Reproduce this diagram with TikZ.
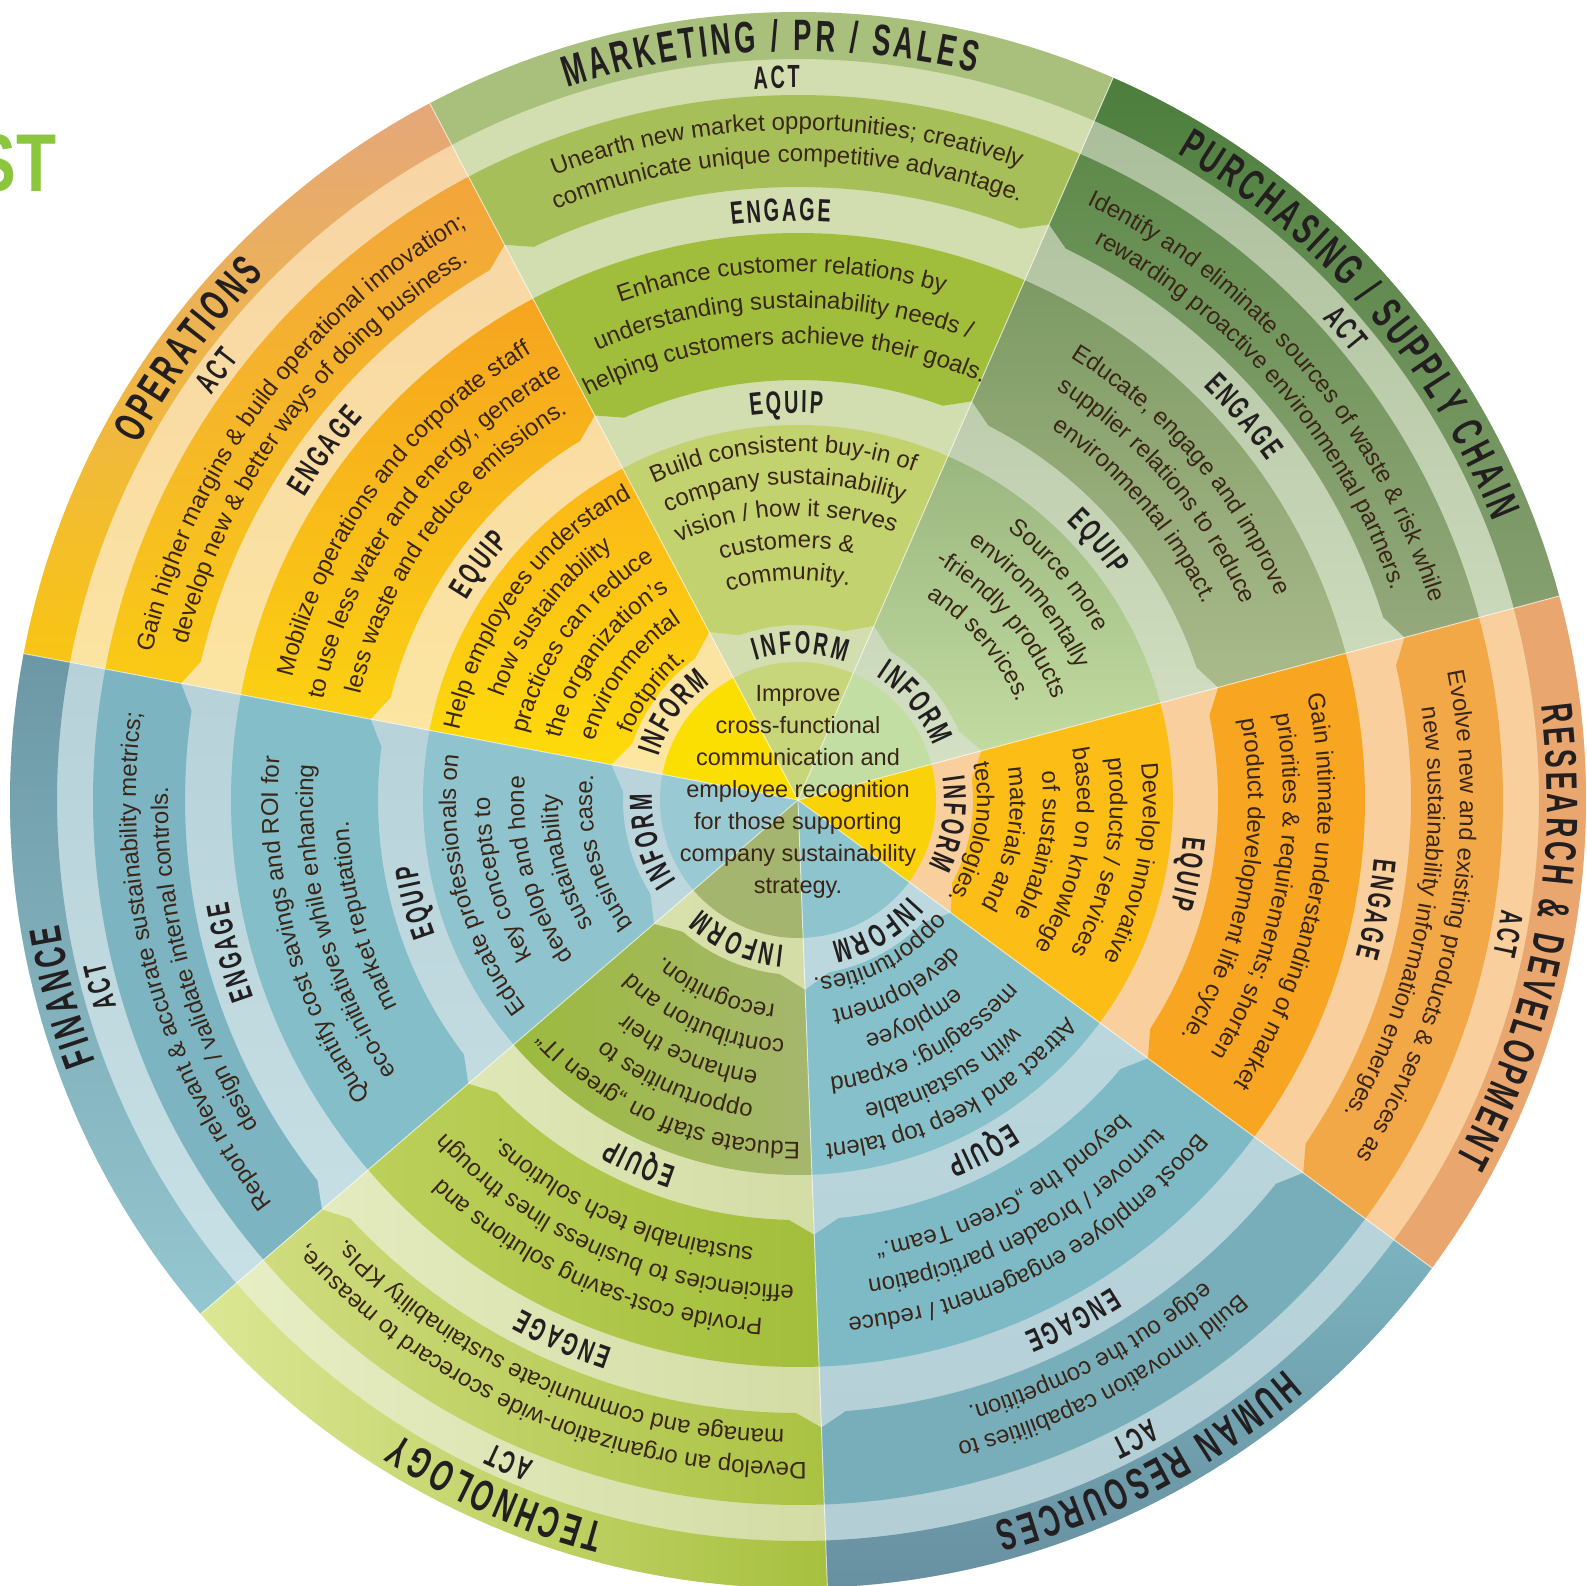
\documentclass[tikz,border=0pt]{standalone}
\usepackage{fontspec}
\setmainfont{Liberation Sans}
\newfontfamily\bodyfam{Liberation Sans}
\newfontfamily\labelfam{Liberation Sans}[FakeStretch=0.62]
\newfontfamily\titlefam{Liberation Sans}[FakeStretch=0.8]
\usetikzlibrary{decorations.text}

% --- Colours ---
\definecolor{ink}{HTML}{3A2517}
\definecolor{labelink}{HTML}{231F20}
\definecolor{titlegreen}{HTML}{8CC63F}
% marketing
\definecolor{mktBase}{HTML}{D2DDB0}\definecolor{mktName}{HTML}{A8C07C}
\definecolor{mktAct}{HTML}{A7BF58}\definecolor{mktEng}{HTML}{A0BE3C}
\definecolor{mktEqu}{HTML}{C2D26E}\definecolor{mktCore}{HTML}{C8D67B}
% purchasing
\definecolor{purBaseT}{HTML}{A8BC98}\definecolor{purBaseB}{HTML}{D6E2C6}
\definecolor{purNameT}{HTML}{4C7E3D}\definecolor{purNameB}{HTML}{86A070}
\definecolor{purActT}{HTML}{5E8A4B}\definecolor{purActB}{HTML}{95A97C}
\definecolor{purEngT}{HTML}{7D9A64}\definecolor{purEngB}{HTML}{AABA8B}
\definecolor{purEquT}{HTML}{9AB77F}\definecolor{purEquB}{HTML}{C2DBA1}
\definecolor{purCore}{HTML}{C3DEA3}
% research & development
\definecolor{rndBase}{HTML}{F9D09D}\definecolor{rndName}{HTML}{E9A76F}
\definecolor{rndAct}{HTML}{F2A847}\definecolor{rndEng}{HTML}{F8A621}
\definecolor{rndEqu}{HTML}{FCBD17}\definecolor{rndCore}{HTML}{F9D20A}
% human resources
\definecolor{hrBaseT}{HTML}{BEDBE1}\definecolor{hrBaseB}{HTML}{B3CDD5}
\definecolor{hrNameT}{HTML}{7BB3BF}\definecolor{hrNameB}{HTML}{6890A0}
\definecolor{hrAct}{HTML}{78AEBA}\definecolor{hrEng}{HTML}{7EBAC6}
\definecolor{hrEqu}{HTML}{86C0CA}\definecolor{hrCore}{HTML}{8EC4CE}
% technology
\definecolor{tecBaseL}{HTML}{E8EFC6}\definecolor{tecBaseR}{HTML}{D3DCA4}
\definecolor{tecNameL}{HTML}{DCE794}\definecolor{tecNameR}{HTML}{A7C03F}
\definecolor{tecActL}{HTML}{CFDC7E}\definecolor{tecActR}{HTML}{AAC243}
\definecolor{tecEngL}{HTML}{BCD05A}\definecolor{tecEngR}{HTML}{A2BE3B}
\definecolor{tecEquL}{HTML}{9CBA3D}\definecolor{tecEquR}{HTML}{A5B76E}
\definecolor{tecCore}{HTML}{A3B56F}
% finance
\definecolor{finBaseT}{HTML}{B6D1D8}\definecolor{finBaseB}{HTML}{C8E1E6}
\definecolor{finNameT}{HTML}{6C98A5}\definecolor{finNameB}{HTML}{95C7D0}
\definecolor{finAct}{HTML}{7DB4C1}\definecolor{finEng}{HTML}{84BEC9}
\definecolor{finEqu}{HTML}{8FC4CE}\definecolor{finCore}{HTML}{99C9D2}
% operations
\definecolor{opsBaseT}{HTML}{F7D3A6}\definecolor{opsBaseB}{HTML}{FCE7A0}
\definecolor{opsNameT}{HTML}{E5A77B}\definecolor{opsNameB}{HTML}{F8C513}
\definecolor{opsActT}{HTML}{F2A53C}\definecolor{opsActB}{HTML}{F9CA14}
\definecolor{opsEngT}{HTML}{F6A420}\definecolor{opsEngB}{HTML}{FBD112}
\definecolor{opsEquT}{HTML}{FBB619}\definecolor{opsEquB}{HTML}{FDDB0A}
\definecolor{opsCore}{HTML}{FCDF02}

% --- Text formats ---
\newcommand{\bodytxt}{\bodyfam\fontsize{24}{24}\selectfont\color{ink}}
\newcommand{\labeltxt}{\labelfam\bfseries\fontsize{32}{32}\selectfont\color{labelink}}
\newcommand{\nametxt}{\labelfam\bfseries\fontsize{44}{44}\selectfont\color{labelink}}
\newcommand{\ls}{\kern0.08em}  % letter spacing for the label font
\newcommand{\wsp}{\kern0.33em} % word space in sector names

% text on a clockwise arc: #1 centre angle, #2 baseline radius, #3 format, #4 text
\newcommand{\arctext}[4]{%
  \path[decorate, decoration={text along path, text align=center, text={|#3|#4}}]
    ({#1+80}:#2pt) arc[start angle={#1+80}, end angle={#1-80}, radius=#2pt];}

% the four stage labels of a sector (#2: angle of INFORM)
\newcommand{\stagelabels}[2]{%
  \arctext{#1}{712}{\labeltxt}{A{\ls}C{\ls}T}
  \arctext{#1}{579}{\labeltxt}{E{\ls}N{\ls}G{\ls}A{\ls}G{\ls}E}
  \arctext{#1}{387}{\labeltxt}{E{\ls}Q{\ls}U{\ls}I{\ls}P}
  \arctext{#2}{146}{\labeltxt}{I{\ls}N{\ls}F{\ls}O{\ls}R{\ls}M}}

% plain annular band: #1,#2 angles, #3 inner, #4 outer radius, #5 style
\newcommand{\ringband}[5]{%
  \path[#5] (#1:#3pt) arc[start angle=#1, end angle=#2, radius=#3pt]
    -- (#2:#4pt) arc[start angle=#2, end angle=#1, radius=#4pt] -- cycle;}

% text band with cut inner corners
\newcommand{\tabband}[5]{%
  \pgfmathsetmacro{\chA}{25/#3*57.296}%
  \pgfmathsetmacro{\chR}{#3+15}%
  \path[#5] (#1:#4pt) arc[start angle=#1, end angle=#2, radius=#4pt]
    -- (#2:\chR pt) -- ({#2-\chA}:#3pt)
    arc[start angle={#2-\chA}, end angle={#1+\chA}, radius=#3pt]
    -- (#1:\chR pt) -- cycle;}

% wedge from the centre
\newcommand{\wedgefill}[4]{%
  \path[#4] (0,0) -- (#1:#3pt) arc[start angle=#1, end angle=#2, radius=#3pt] -- cycle;}

% one sector: angles, then styles for base, name, act, engage, equip, core
\newcommand{\sectorfill}[8]{%
  \wedgefill{#1}{#2}{788}{#3}
  \ringband{#1}{#2}{741}{788}{#4}
  \tabband{#1}{#2}{613}{705}{#5}
  \tabband{#1}{#2}{420}{567}{#6}
  \tabband{#1}{#2}{175}{375}{#7}
  \wedgefill{#1}{#2}{138}{#8}}

\begin{document}
\begin{tikzpicture}[
    vgrad/.style 2 args={top color=#1, bottom color=#2}, % top to bottom shading
    hgrad/.style 2 args={left color=#1, right color=#2}, % left to right shading
    sepline/.style={white, line width=1pt, opacity=0.6}, % sector borders
    coretext/.style={align=center, inner sep=0pt, text=ink,
        font=\bodyfam\fontsize{23.5}{32}\selectfont},
    titletxt/.style={inner sep=0pt, text=titlegreen,
        font=\titlefam\bfseries\fontsize{82}{82}\selectfont}
]
    \useasboundingbox (-798pt,-786pt) rectangle (789pt,800pt);
    \clip (-798pt,-786pt) rectangle (789pt,800pt);

    % --- Sector fills ---
    \sectorfill{15}{66.43}{vgrad={purBaseT}{purBaseB}}{vgrad={purNameT}{purNameB}}
        {vgrad={purActT}{purActB}}{vgrad={purEngT}{purEngB}}{vgrad={purEquT}{purEquB}}{fill=purCore}
    \sectorfill{66.43}{117.86}{fill=mktBase}{fill=mktName}
        {fill=mktAct}{fill=mktEng}{fill=mktEqu}{fill=mktCore}
    \sectorfill{117.86}{169.29}{vgrad={opsBaseT}{opsBaseB}}{vgrad={opsNameT}{opsNameB}}
        {vgrad={opsActT}{opsActB}}{vgrad={opsEngT}{opsEngB}}{vgrad={opsEquT}{opsEquB}}{fill=opsCore}
    \sectorfill{169.29}{220.71}{vgrad={finBaseT}{finBaseB}}{vgrad={finNameT}{finNameB}}
        {fill=finAct}{fill=finEng}{fill=finEqu}{fill=finCore}
    \sectorfill{220.71}{272.14}{hgrad={tecBaseL}{tecBaseR}}{hgrad={tecNameL}{tecNameR}}
        {hgrad={tecActL}{tecActR}}{hgrad={tecEngL}{tecEngR}}{hgrad={tecEquL}{tecEquR}}{fill=tecCore}
    \sectorfill{272.14}{323.57}{vgrad={hrBaseT}{hrBaseB}}{vgrad={hrNameT}{hrNameB}}
        {fill=hrAct}{fill=hrEng}{fill=hrEqu}{fill=hrCore}
    \sectorfill{323.57}{375}{fill=rndBase}{fill=rndName}
        {fill=rndAct}{fill=rndEng}{fill=rndEqu}{fill=rndCore}

    \foreach \b in {15,66.43,117.86,169.29,220.71,272.14,323.57}
        \draw[sepline] (0,0) -- (\b:788pt);

    % --- Marketing / PR / Sales ---
    \arctext{92.14}{749}{\nametxt}{M{\ls}A{\ls}R{\ls}K{\ls}E{\ls}T{\ls}I{\ls}N{\ls}G{\wsp}/{\wsp}P{\ls}R{\wsp}/{\wsp}S{\ls}A{\ls}L{\ls}E{\ls}S}
    \stagelabels{91.7}{89}
    \arctext{91}{670}{\bodytxt}{Unearth new market opportunities; creatively}
    \arctext{91}{638}{\bodytxt}{communicate unique competitive advantage.}
    \arctext{91.8}{528}{\bodytxt}{Enhance customer relations by}
    \arctext{91.8}{492}{\bodytxt}{understanding sustainability needs /}
    \arctext{91.8}{456}{\bodytxt}{helping customers achieve their goals.}
    \arctext{92.5}{348}{\bodytxt}{Build consistent buy-in of}
    \arctext{92.5}{316}{\bodytxt}{company sustainability}
    \arctext{92.5}{284}{\bodytxt}{vision / how it serves}
    \arctext{92.5}{252}{\bodytxt}{customers {\&}}
    \arctext{92.5}{220}{\bodytxt}{community.}

    % --- Purchasing / Supply chain ---
    \arctext{40.71}{749}{\nametxt}{P{\ls}U{\ls}R{\ls}C{\ls}H{\ls}A{\ls}S{\ls}I{\ls}N{\ls}G{\wsp}/{\wsp}S{\ls}U{\ls}P{\ls}P{\ls}L{\ls}Y{\wsp}C{\ls}H{\ls}A{\ls}I{\ls}N}
    \stagelabels{40.71}{39.7}
    \arctext{40.71}{662}{\bodytxt}{Identify and eliminate sources of waste {\&} risk while}
    \arctext{40.71}{630}{\bodytxt}{rewarding proactive environmental partners.}
    \arctext{40.71}{520}{\bodytxt}{Educate, engage and improve}
    \arctext{40.71}{485}{\bodytxt}{supplier relations to reduce}
    \arctext{40.71}{450}{\bodytxt}{environmental impact.}
    \arctext{40.71}{342}{\bodytxt}{Source more}
    \arctext{40.71}{308}{\bodytxt}{environmentally}
    \arctext{40.71}{274}{\bodytxt}{-friendly products}
    \arctext{40.71}{240}{\bodytxt}{and services.}

    % --- Research & Development ---
    \arctext{349.29}{749}{\nametxt}{R{\ls}E{\ls}S{\ls}E{\ls}A{\ls}R{\ls}C{\ls}H{\wsp}{\&}{\wsp}D{\ls}E{\ls}V{\ls}E{\ls}L{\ls}O{\ls}P{\ls}M{\ls}E{\ls}N{\ls}T}
    \stagelabels{349.29}{351}
    \arctext{349.29}{662}{\bodytxt}{Evolve new and existing products {\&} services as}
    \arctext{349.29}{630}{\bodytxt}{new sustainability information emerges.}
    \arctext{349.29}{520}{\bodytxt}{Gain intimate understanding of market}
    \arctext{349.29}{485}{\bodytxt}{priorities {\&} requirements; shorten}
    \arctext{349.29}{450}{\bodytxt}{product development life cycle.}
    \arctext{349.29}{345}{\bodytxt}{Develop innovative}
    \arctext{349.29}{312}{\bodytxt}{products / services}
    \arctext{349.29}{279}{\bodytxt}{based on knowlege}
    \arctext{349.29}{245}{\bodytxt}{of sustainable}
    \arctext{349.29}{212}{\bodytxt}{materials and}
    \arctext{349.29}{179}{\bodytxt}{technologies.}

    % --- Human Resources ---
    \arctext{297.86}{749}{\nametxt}{H{\ls}U{\ls}M{\ls}A{\ls}N{\wsp}R{\ls}E{\ls}S{\ls}O{\ls}U{\ls}R{\ls}C{\ls}E{\ls}S}
    \stagelabels{297.86}{301}
    \arctext{297.86}{662}{\bodytxt}{Build innovation capabilities to}
    \arctext{297.86}{630}{\bodytxt}{edge out the competition.}
    \arctext{297.86}{520}{\bodytxt}{Boost employee engagement / reduce}
    \arctext{297.86}{485}{\bodytxt}{turnover / broaden participation}
    \arctext{297.86}{450}{\bodytxt}{beyond the „Green Team.“}
    \arctext{297.86}{345}{\bodytxt}{Attract and keep top talent}
    \arctext{297.86}{312}{\bodytxt}{with sustainable}
    \arctext{297.86}{279}{\bodytxt}{messaging; expand}
    \arctext{297.86}{245}{\bodytxt}{employee}
    \arctext{297.86}{212}{\bodytxt}{development}
    \arctext{297.86}{179}{\bodytxt}{opportunities.}

    % --- Technology ---
    \arctext{246.43}{749}{\nametxt}{T{\ls}E{\ls}C{\ls}H{\ls}N{\ls}O{\ls}L{\ls}O{\ls}G{\ls}Y}
    \stagelabels{246.43}{246.5}
    \arctext{246.43}{662}{\bodytxt}{Develop an organization-wide scorecard to measure,}
    \arctext{246.43}{630}{\bodytxt}{manage and communicate sustainability KPIs.}
    \arctext{246.43}{520}{\bodytxt}{Provide cost-saving solutions and}
    \arctext{246.43}{485}{\bodytxt}{efficiencies to business lines through}
    \arctext{246.43}{450}{\bodytxt}{sustainable tech solutions.}
    \arctext{246.43}{342}{\bodytxt}{Educate staff on „green IT“}
    \arctext{246.43}{308}{\bodytxt}{opportunities to}
    \arctext{246.43}{274}{\bodytxt}{enhance their}
    \arctext{246.43}{240}{\bodytxt}{contribution and}
    \arctext{246.43}{206}{\bodytxt}{recognition.}

    % --- Finance ---
    \arctext{195}{749}{\nametxt}{F{\ls}I{\ls}N{\ls}A{\ls}N{\ls}C{\ls}E}
    \stagelabels{195}{195.6}
    \arctext{195}{662}{\bodytxt}{Report relevant {\&} accurate sustainability metrics;}
    \arctext{195}{630}{\bodytxt}{design / validate internal controls.}
    \arctext{195}{520}{\bodytxt}{Quantify cost savings and ROI for}
    \arctext{195}{485}{\bodytxt}{eco-initiatives while enhancing}
    \arctext{195}{450}{\bodytxt}{market reputation.}
    \arctext{195}{342}{\bodytxt}{Educate professionals on}
    \arctext{195}{308}{\bodytxt}{key concepts to}
    \arctext{195}{274}{\bodytxt}{develop and hone}
    \arctext{195}{240}{\bodytxt}{sustainability}
    \arctext{195}{206}{\bodytxt}{business case.}

    % --- Operations ---
    \arctext{143.57}{749}{\nametxt}{O{\ls}P{\ls}E{\ls}R{\ls}A{\ls}T{\ls}I{\ls}O{\ls}N{\ls}S}
    \stagelabels{143.57}{145}
    \arctext{143.57}{662}{\bodytxt}{Gain higher margins {\&} build operational innovation;}
    \arctext{143.57}{630}{\bodytxt}{develop new {\&} better ways of doing business.}
    \arctext{143.57}{520}{\bodytxt}{Mobilize operations and corporate staff}
    \arctext{143.57}{485}{\bodytxt}{to use less water and energy, generate}
    \arctext{143.57}{450}{\bodytxt}{less waste and reduce emissions.}
    \arctext{143.57}{345}{\bodytxt}{Help employees understand}
    \arctext{143.57}{312}{\bodytxt}{how sustainability}
    \arctext{143.57}{279}{\bodytxt}{practices can reduce}
    \arctext{143.57}{245}{\bodytxt}{the organization’s}
    \arctext{143.57}{212}{\bodytxt}{environmental}
    \arctext{143.57}{179}{\bodytxt}{footprint.}

    % --- Centre and title ---
    \node[coretext] (core) at (0,8pt) {Improve\\cross-functional\\communication and\\employee recognition\\for those supporting\\company sustainability\\strategy.};
    \node[titletxt, anchor=base east] (title) at (-741pt,608pt) {ST};

\end{tikzpicture}
\end{document}
